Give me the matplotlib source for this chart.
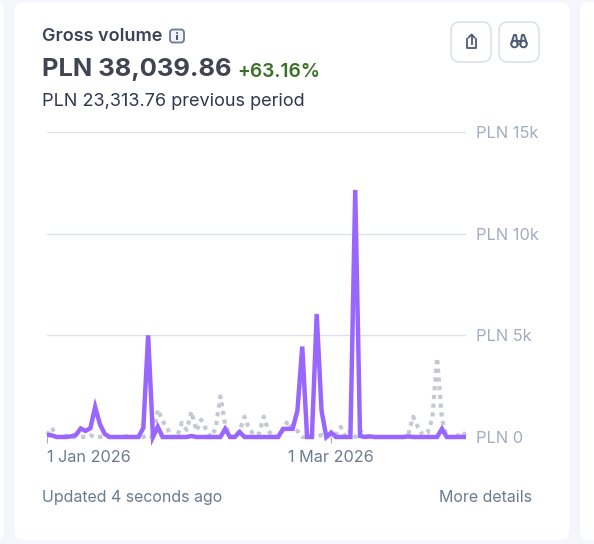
import matplotlib
matplotlib.use('Agg')
import matplotlib.pyplot as plt
from matplotlib.patches import FancyBboxPatch, Rectangle, Circle

plt.rcParams['font.family'] = ['Inter', 'DejaVu Sans']

WIDTH = 594
HEIGHT = 544

# one value per day, starting 1 Jan 2026
current = [100, 80, 0, 0, 0, 30, 100, 420, 300, 430, 1480, 620, 150, 0, 0, 0, 0, 0, 0, 0,
           450, 5000, 0, 500, 0, 0, 0, 0, 0, 0, 50, 0, 0, 0, 0, 0, 0, 400, 0, 0,
           250, 0, 0, 0, 0, 0, 0, 0, 0, 400, 400, 400, 1300, 4450, 0, 0, 6050, 1300, 0, 220,
           0, 0, 0, 0, 12150, 50, 0, 30, 0, 0, 0, 0, 0, 0, 0, 30, 0, 0, 0, 0, 0, 0,
           400, 0, 0, 0, 0, 0]
previous = [100, 450, 0, 0, 60, 0, 0, 0, 0, 80, 0, 0, 50, 0, 0, 0, 30, 30, 0, 0,
            0, 100, 0, 1350, 800, 400, 0, 0, 700, 350, 1250, 300, 850, 400, 0, 400, 2000, 600, 0, 0,
            300, 1000, 400, 100, 150, 1000, 300, 0, 50, 300, 800, 400, 300, 0, 0, 50, 0, 100, 0, 100,
            100, 500, 0, 300, 0, 300, 100, 0, 0, 0, 0, 0, 0, 0, 0, 100, 1000, 500, 100, 200,
            900, 3900, 900, 0, 0, 0, 250, 100]

y_ticks = [0, 5000, 10000, 15000]
y_labels = ['PLN 0', 'PLN 5k', 'PLN 10k', 'PLN 15k']
x_ticks = [0, 59]
x_labels = ['1 Jan 2026', '1 Mar 2026']

fig = plt.figure(figsize=(WIDTH / 100, HEIGHT / 100), dpi=100, facecolor='#f5f6fb')

# page layer in pixel coordinates, y pointing down
bg = fig.add_axes([0, 0, 1, 1])
bg.set_xlim(0, WIDTH)
bg.set_ylim(HEIGHT, 0)
bg.axis('off')


def card(x0, y0, x1, y1):
    bg.add_patch(FancyBboxPatch((x0 + 8, y0 + 8), x1 - x0 - 16, y1 - y0 - 16,
                                boxstyle='round,pad=8,rounding_size=8',
                                fc='white', ec='none'))


def button(x0, y0, size=40):
    bg.add_patch(FancyBboxPatch((x0 + 9, y0 + 9), size - 18, size - 18,
                                boxstyle='round,pad=9,rounding_size=9',
                                fc='white', ec='#d8dfea', lw=1.1))


card(-30, 2, 4, 540)
card(15, 2, 569, 540)
card(580, 2, 640, 540)

bg.text(42, 36.5, 'Gross volume', fontsize=13, color='#3c4257', fontweight='semibold', va='center')
bg.text(42, 69.5, 'PLN 38,039.86', fontsize=18.4, color='#414552', fontweight='bold', va='center')
bg.text(237.5, 72, '+63.16%', fontsize=13.8, color='#3a6f27', fontweight='semibold', va='center')
bg.text(42, 101.5, 'PLN 23,313.76 previous period', fontsize=13, color='#30384e', va='center')
bg.text(42, 497.5, 'Updated 4 seconds ago', fontsize=11.5, color='#6c7a93', va='center')
bg.text(532, 497.5, 'More details', fontsize=11.5, color='#6c7a93', va='center', ha='right')

# info icon next to the title
bg.add_patch(FancyBboxPatch((171.5, 31), 11, 10, boxstyle='round,pad=1.5,rounding_size=3',
                            fc='#f2f4f9', ec='#6c7a93', lw=1.3))
bg.add_patch(Rectangle((176.2, 35), 1.6, 4.5, fc='#4f5b76', ec='none'))
bg.add_patch(Circle((177, 33), 1, fc='#4f5b76', ec='none'))

button(451, 22)
button(499, 22)

# share icon
icon = '#4f5b76'
bg.plot([467, 467, 476, 476], [39, 48, 48, 39], color=icon, lw=1.3, solid_joinstyle='round')
bg.plot([471.5, 471.5], [35, 44], color=icon, lw=1.3)
bg.plot([468.5, 471.5, 474.5], [37.5, 34.5, 37.5], color=icon, lw=1.3)

# binoculars icon
bg.add_patch(Circle((514.5, 44), 3.3, fc='none', ec=icon, lw=1.4))
bg.add_patch(Circle((523.5, 44), 3.3, fc='none', ec=icon, lw=1.4))
bg.plot([511.5, 514, 516, 517.5], [43, 35, 35, 44], color=icon, lw=1.4)
bg.plot([526.5, 524, 522, 520.5], [43, 35, 35, 44], color=icon, lw=1.4)
bg.plot([517.5, 520.5], [41, 41], color=icon, lw=1.4)

# chart, x maps to 47..466 px and y maps to 437..132 px
ax = fig.add_axes([47 / WIDTH, 1 - 437 / HEIGHT, 419 / WIDTH, 305 / HEIGHT])
ax.patch.set_alpha(0)
ax.set_xlim(0, 87)
ax.set_ylim(0, 15000)
for spine in ax.spines.values():
    spine.set_visible(False)

ax.yaxis.tick_right()
ax.set_yticks(y_ticks)
ax.set_yticklabels(y_labels, fontsize=11.8, color='#a3acc0')
ax.tick_params(axis='y', length=0, pad=7)
ax.grid(axis='y', color='#dce1ea', lw=1)
ax.set_axisbelow(True)

ax.set_xticks(x_ticks)
ax.set_xticklabels(x_labels, fontsize=11.7, color='#6c7a93')
ax.tick_params(axis='x', length=4, width=0.8, color='#a3acc0', pad=5.5, direction='out')
for label in ax.get_xticklabels():
    label.set_ha('center')
ax.get_xticklabels()[0].set_ha('left')

days = range(len(current))
ax.plot(days, previous, color='#c5c9d3', lw=3, linestyle=(0, (1, 1.1)), clip_on=False)
ax.plot(days, current, color='#9966ff', lw=3.2, clip_on=False, solid_joinstyle='miter',
        solid_capstyle='butt')

fig.savefig('out.png', dpi=100, facecolor=fig.get_facecolor())
